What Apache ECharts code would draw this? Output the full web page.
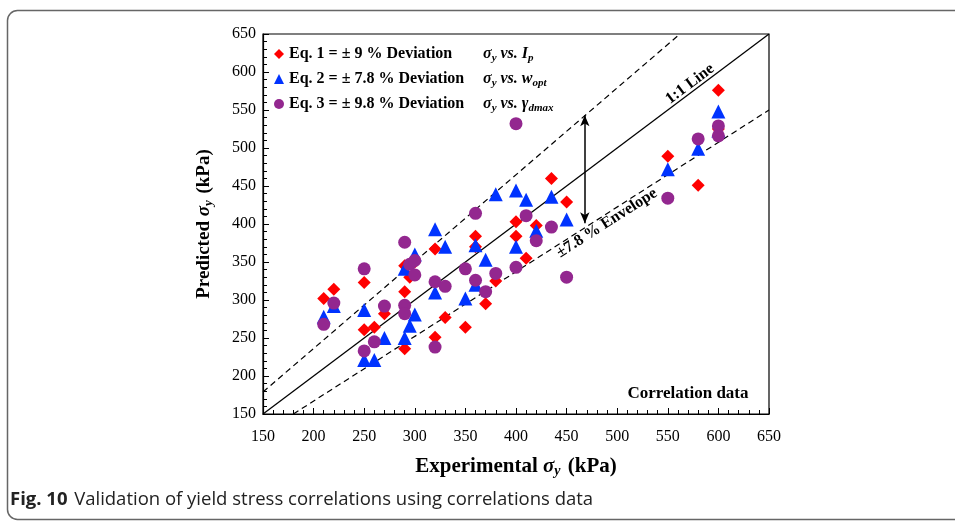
<!DOCTYPE html>
<html>
<head>
<meta charset="utf-8">
<script src="https://cdn.jsdelivr.net/npm/echarts@6/dist/echarts.min.js"></script>
<style>html,body{margin:0;padding:0;background:#fff}#c{width:955px;height:521px}</style>
</head>
<body>
<div id="c"></div>
<script>
// Axis settings
const axisMin = 150, axisMax = 650, axisStep = 50;

// Eq. 1 (sigma_y vs I_p) - [experimental, predicted]
const eq1 = [[210,302],[220,314],[250,323],[250,261],[260,264],[270,282],[290,345],[290,311],[290,236],
  [295,330],[300,350],[320,367],[320,251],[330,277],[350,264],[360,384],[360,370],[370,295],[380,325],
  [400,403],[400,384],[410,355],[420,398],[435,460],[450,429],[550,489],[580,451],[600,576],[600,525]];
// Eq. 2 (sigma_y vs w_opt)
const eq2 = [[210,278],[220,292],[250,287],[250,221],[260,221],[270,250],[290,341],[290,250],[295,266],
  [300,360],[300,281],[320,393],[320,310],[330,370],[350,302],[360,372],[360,320],[370,353],[380,439],
  [400,444],[400,370],[410,432],[420,391],[435,436],[450,406],[550,472],[580,499],[600,548],[600,523]];
// Eq. 3 (sigma_y vs gamma_dmax)
const eq3 = [[210,268],[220,296],[250,341],[250,233],[260,245],[270,292],[290,376],[290,293],[290,282],
  [295,347],[300,352],[300,333],[320,324],[320,238],[330,318],[350,341],[360,414],[360,326],[370,311],
  [380,335],[400,532],[400,343],[410,411],[420,378],[435,396],[450,330],[550,434],[580,512],[600,529],[600,516]];

// Reference lines
const lineOneToOne = [[150,150],[650,650]];
const lineUpper = [[150,179],[562,650]];
const lineLower = [[180,150],[650,550]];
const envelopeArrow = [[468,543],[468,401]];

const serif = 'Liberation Serif';
const chart = echarts.init(document.getElementById('c'), null, {renderer: 'canvas'});

const legendText = {
  'Eq. 1': '{a|Eq. 1 = ± 9 % Deviation}{s|σ}{sub|y}{s| vs. }{s|I}{sub|p}',
  'Eq. 2': '{a|Eq. 2 = ± 7.8 % Deviation}{s|σ}{sub|y}{s| vs. }{s|w}{sub|opt}',
  'Eq. 3': '{a|Eq. 3 = ± 9.8 % Deviation}{s|σ}{sub|y}{s| vs. }{s|γ}{sub|dmax}'
};

const axisCommon = {
  type: 'value', min: axisMin, max: axisMax, interval: axisStep,
  axisLine: {show: true, lineStyle: {color: '#000', width: 1.2}},
  axisTick: {show: true, inside: true, length: 6, lineStyle: {color: '#000'}},
  minorTick: {show: true, splitNumber: 5, length: 4, lineStyle: {color: '#000'}},
  splitLine: {show: false},
  axisLabel: {color: '#000', fontFamily: serif, fontSize: 16},
  nameLocation: 'middle'
};

function nameStyle(sz) {
  return {
    color: '#000', fontFamily: serif, fontSize: sz, fontWeight: 'bold',
    rich: {
      t: {fontFamily: serif, fontSize: sz, fontWeight: 'bold', color: '#000'},
      g: {fontFamily: serif, fontSize: sz, fontWeight: 'bold', fontStyle: 'italic', color: '#000'},
      sub: {fontFamily: serif, fontSize: Math.round(sz * 0.68), fontWeight: 'bold', fontStyle: 'italic', color: '#000', padding: [8,2,0,0]}
    }
  };
}

const option = {
  animation: false,
  backgroundColor: '#fff',
  grid: {left: 263, right: 186, top: 34, bottom: 107, show: true, borderColor: '#000', borderWidth: 1.2, containLabel: false},
  xAxis: Object.assign({}, axisCommon, {
    name: '{t|Experimental }{g|σ}{sub|y}{t| (kPa)}', nameGap: 42,
    nameTextStyle: nameStyle(21),
    axisLabel: Object.assign({}, axisCommon.axisLabel, {margin: 15})
  }),
  yAxis: Object.assign({}, axisCommon, {
    name: '{t|Predicted }{g|σ}{sub|y}{t| (kPa)}', nameGap: 48,
    nameTextStyle: nameStyle(19),
    axisLabel: Object.assign({}, axisCommon.axisLabel, {margin: 7})
  }),
  legend: {
    orient: 'vertical', left: 269, top: 39, itemGap: 5, itemWidth: 10, itemHeight: 10,
    data: ['Eq. 1', 'Eq. 2', 'Eq. 3'],
    formatter: function (n) { return legendText[n]; },
    textStyle: {
      color: '#000', fontFamily: serif, fontSize: 16, fontWeight: 'bold', lineHeight: 20,
      rich: {
        a: {fontFamily: serif, fontSize: 16, fontWeight: 'bold', color: '#000', width: 194},
        s: {fontFamily: serif, fontSize: 16, fontWeight: 'bold', fontStyle: 'italic', color: '#000'},
        sub: {fontFamily: serif, fontSize: 11, fontWeight: 'bold', fontStyle: 'italic', color: '#000', padding: [8,0,0,0]}
      }
    }
  },
  series: [
    {type: 'line', data: lineOneToOne, symbol: 'none', silent: true,
     lineStyle: {color: '#000', width: 1.3}, z: 1,
     markLine: {silent: true, symbol: ['arrow', 'arrow'], symbolSize: [7, 11],
       label: {show: false}, lineStyle: {color: '#000', width: 1.5, type: 'solid'},
       data: [[{coord: envelopeArrow[0]}, {coord: envelopeArrow[1]}]]}},
    {type: 'line', data: lineUpper, symbol: 'none', silent: true,
     lineStyle: {color: '#000', width: 1.2, type: [6, 4]}, z: 1},
    {type: 'line', data: lineLower, symbol: 'none', silent: true,
     lineStyle: {color: '#000', width: 1.2, type: [6, 4]}, z: 1},
    {name: 'Eq. 1', type: 'scatter', data: eq1, symbol: 'diamond', symbolSize: 13,
     itemStyle: {color: '#ff0000', opacity: 1}, z: 3},
    {name: 'Eq. 2', type: 'scatter', data: eq2, symbol: 'triangle', symbolSize: 14,
     itemStyle: {color: '#0033ff', opacity: 1}, z: 4},
    {name: 'Eq. 3', type: 'scatter', data: eq3, symbol: 'circle', symbolSize: 13,
     itemStyle: {color: '#93278f', opacity: 1}, z: 5}
  ],
  graphic: [
    {type: 'rect', left: 5, top: 8, shape: {width: 1000, height: 509, r: 10},
     style: {fill: 'none', stroke: '#666', lineWidth: 1.5}, silent: true, z: -10},
    {type: 'text', x: 690, y: 84, rotation: 37 * Math.PI / 180,
     style: {text: '1:1 Line', fontFamily: serif, fontSize: 16, fontWeight: 'bold', fill: '#000',
       textAlign: 'center', textVerticalAlign: 'middle'}},
    {type: 'text', x: 607, y: 223, rotation: 32.5 * Math.PI / 180,
     style: {text: '±7.8 % Envelope', fontFamily: serif, fontSize: 16, fontWeight: 'bold', fill: '#000',
       textAlign: 'center', textVerticalAlign: 'middle'}},
    {type: 'text', x: 688, y: 394,
     style: {text: 'Correlation data', fontFamily: serif, fontSize: 17, fontWeight: 'bold', fill: '#000',
       textAlign: 'center', textVerticalAlign: 'middle'}},
    {type: 'text', x: 10, y: 500,
     style: {text: '{b|Fig. 10}  {r|Validation of yield stress correlations using correlations data}',
       textVerticalAlign: 'middle',
       rich: {b: {fontFamily: 'Open Sans', fontSize: 18.5, fontWeight: 'bold', fill: '#222'},
              r: {fontFamily: 'Open Sans', fontSize: 18.5, fill: '#222'}}}}
  ]
};
chart.setOption(option);
</script>
</body>
</html>
